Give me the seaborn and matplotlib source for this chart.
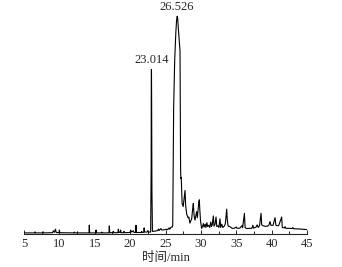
import numpy as np
import pandas as pd
import matplotlib
matplotlib.use('Agg')
import matplotlib.pyplot as plt
from matplotlib.ticker import MultipleLocator
import seaborn as sns

# Chromatogram trace (retention time in min, relative signal)
time_min = [
    5.1, 6.5, 6.55, 6.6, 7.7, 7.75, 7.8,
    9.05, 9.15, 9.3, 9.45, 9.55, 9.95, 10.0, 10.05,
    12.05, 12.1, 12.15, 12.5, 12.55, 12.6,
    14.18, 14.23, 14.28, 15.13, 15.18, 15.23, 15.95, 16.0, 16.05,
    17.01, 17.06, 17.11, 17.6, 17.65, 17.7,
    18.28, 18.33, 18.42, 18.6, 18.66, 18.72, 19.1, 19.13, 19.18,
    20.0, 20.07, 20.2, 20.45, 20.55, 20.78, 20.83, 20.88,
    21.6, 21.63, 21.68, 21.92, 21.98, 22.05, 22.4, 22.5, 22.6,
    22.9, 22.97, 22.99, 23.014, 23.04, 23.08, 23.15,
    23.5, 23.9, 24.0, 24.1, 24.35, 24.5, 24.95, 25.05, 25.3, 25.5, 25.6, 25.8, 25.95,
    26.02, 26.08, 26.15, 26.3, 26.45, 26.56, 26.65, 26.72, 26.8, 26.92, 27.05, 27.1, 27.13,
    27.17, 27.22, 27.35, 27.5, 27.65, 27.76, 27.85, 28.0, 28.2, 28.3, 28.45,
    28.7, 28.85, 28.93, 29.05, 29.17, 29.3, 29.4, 29.5, 29.6, 29.7, 29.78, 29.85, 29.95, 30.1,
    30.25, 30.35, 30.45, 30.6, 30.7, 30.85, 30.95, 31.1, 31.25, 31.4, 31.5, 31.6, 31.76, 31.85,
    32.0, 32.14, 32.25, 32.4, 32.55, 32.7, 32.8, 32.95, 33.1, 33.3, 33.45, 33.65, 33.72, 33.85,
    34.1, 34.4, 34.7, 35.0, 35.1, 35.5, 35.8, 35.9, 36.15, 36.25, 36.5, 36.8,
    37.2, 37.35, 37.45, 37.8, 37.95, 38.1, 38.3, 38.5, 38.6, 38.8, 39.1, 39.4, 39.6, 39.77, 39.9,
    40.2, 40.48, 40.6, 40.8, 41.0, 41.42, 41.5, 41.8, 41.9, 42.0, 42.5, 42.9, 43.0, 43.1, 44.0, 45.0,
]
signal = [
    0.5, 0.5, 1.0, 0.5, 0.5, 0.9, 0.5,
    0.6, 1.5, 0.8, 2.2, 0.7, 0.6, 1.8, 0.6,
    0.5, 0.9, 0.5, 0.5, 0.9, 0.5,
    0.5, 4.1, 0.5, 0.5, 1.8, 0.5, 0.5, 0.9, 0.5,
    0.5, 3.7, 0.6, 0.6, 1.2, 0.6,
    0.6, 2.2, 0.7, 0.8, 1.8, 0.6, 0.6, 1.2, 0.6,
    0.7, 1.8, 0.9, 1.5, 0.7, 0.7, 4.0, 0.7,
    0.7, 1.2, 0.7, 0.8, 2.8, 0.9, 0.9, 1.6, 0.9,
    0.9, 30.0, 68.0, 75.6, 60.0, 20.0, 1.2,
    1.3, 1.6, 2.3, 1.6, 2.5, 1.8, 2.0, 2.2, 2.0, 2.8, 2.2, 3.2, 3.2,
    4.0, 30.0, 58.0, 80.0, 92.0, 98.0, 100.0, 99.0, 95.0, 90.0, 84.0, 55.0, 30.0,
    25.5, 26.0, 14.0, 12.6, 17.0, 20.0, 13.0, 9.0, 7.4, 7.8, 5.0,
    7.0, 12.0, 14.0, 8.0, 6.4, 8.5, 10.3, 7.5, 11.0, 14.5, 15.7, 11.0, 6.0, 2.6,
    3.5, 4.8, 3.2, 4.5, 3.0, 5.2, 3.4, 4.0, 3.0, 5.5, 3.5, 4.2, 8.3, 3.6,
    4.5, 7.8, 3.4, 3.8, 3.0, 7.0, 3.0, 4.5, 3.0, 3.6, 4.6, 11.4, 7.0, 3.6,
    3.4, 2.6, 2.6, 3.2, 2.6, 2.7, 3.8, 2.9, 9.5, 2.9, 2.5, 2.6,
    2.6, 4.0, 2.7, 3.2, 4.2, 3.0, 4.0, 9.5, 4.2, 3.8, 3.5, 3.6, 4.0, 5.7, 4.0,
    4.0, 7.5, 4.0, 3.8, 3.9, 7.8, 3.0, 2.8, 3.4, 2.6, 2.6, 2.5, 3.0, 2.4, 2.3, 2.0,
]

peak_times = [23.014, 26.526]
peak_heights = [75.6, 100.0]
peak_labels = ['23.014', '26.526']

df = pd.DataFrame({'time': time_min, 'signal': signal})

sns.set_style('ticks')
plt.rcParams['font.family'] = ['Liberation Serif', 'Noto Sans CJK SC']

fig = plt.figure(figsize=(3.42, 2.67), dpi=100)
ax = fig.add_axes([0.0702, 0.1236, 0.8275, 0.84])

sns.lineplot(data=df, x='time', y='signal', color='black', linewidth=0.8,
             estimator=None, sort=False, ax=ax)

# retention-time labels above the two main peaks
for t, h, lab in zip(peak_times, peak_heights, peak_labels):
    ax.text(t + 0.1, h + 1.5, lab, ha='center', va='bottom', fontsize=9)

ax.set_xlim(5, 45)
ax.set_ylim(0, 103)
ax.xaxis.set_major_locator(MultipleLocator(5))
ax.xaxis.set_minor_locator(MultipleLocator(2.5))
ax.tick_params(axis='x', which='major', direction='in', length=3, width=0.7,
               labelsize=9, pad=3)
ax.tick_params(axis='x', which='minor', direction='in', length=2, width=0.7)
ax.set_yticks([])
for side in ['left', 'right', 'top']:
    ax.spines[side].set_visible(False)
ax.spines['bottom'].set_linewidth(0.8)
ax.set_ylabel('')
ax.set_xlabel('时间/min', fontsize=9, labelpad=1.5)

fig.savefig('out.png', dpi=100)
